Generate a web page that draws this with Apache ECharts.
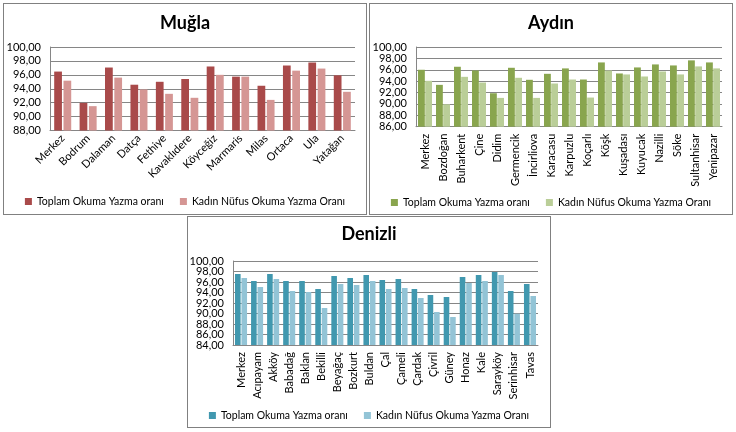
<!DOCTYPE html>
<html><head><meta charset="utf-8">
<script src="https://cdn.jsdelivr.net/npm/echarts@6/dist/echarts.min.js"></script>
<style>
html,body{margin:0;padding:0;background:#fff;width:736px;height:432px;overflow:hidden}
.box{position:absolute;box-sizing:border-box;border:1px solid #808080;background:#fff}
</style></head><body>
<div id="mugla" class="box" style="left:3px;top:3px;width:364px;height:212px"></div>
<div id="aydin" class="box" style="left:369px;top:3px;width:364px;height:212px"></div>
<div id="denizli" class="box" style="left:187px;top:216px;width:364px;height:212px"></div>
<script>
const seriesNames = ['Toplam Okuma Yazma oranı', 'Kadın Nüfus Okuma Yazma Oranı'];

const muglaCategories = ['Merkez','Bodrum','Dalaman','Datça','Fethiye','Kavaklıdere','Köyceğiz','Marmaris','Milas','Ortaca','Ula','Yatağan'];
const muglaToplam = [96.47, 91.97, 97.05, 94.58, 95.00, 95.40, 97.20, 95.74, 94.43, 97.34, 97.77, 95.93];
const muglaKadin  = [95.16, 91.50, 95.60, 93.90, 93.27, 92.70, 96.00, 95.74, 92.40, 96.60, 96.90, 93.56];
const muglaTicks  = ['88,00','90,00','92,00','94,00','96,00','98,00','100,00'];

const aydinCategories = ['Merkez','Bozdoğan','Buharkent','Çine','Didim','Germencik','İncirliova','Karacasu','Karpuzlu','Koçarlı','Köşk','Kuşadası','Kuyucak','Nazilli','Söke','Sultanhisar','Yenipazar'];
const aydinToplam = [96.00, 93.35, 96.53, 95.88, 91.88, 96.35, 94.24, 95.29, 96.24, 94.29, 97.29, 95.35, 96.41, 96.94, 96.76, 97.65, 97.29];
const aydinKadin  = [94.06, 89.94, 94.76, 93.76, 91.06, 94.59, 91.06, 93.59, 94.29, 91.12, 95.88, 95.18, 94.82, 95.70, 95.18, 96.59, 96.24];
const aydinTicks  = ['86,00','88,00','90,00','92,00','94,00','96,00','98,00','100,00'];

const denizliCategories = ['Merkez','Acıpayam','Akköy','Babadağ','Baklan','Bekilli','Beyağaç','Bozkurt','Buldan','Çal','Çameli','Çardak','Çivril','Güney','Honaz','Kale','Sarayköy','Serinhisar','Tavas'];
const denizliToplam = [97.52, 96.19, 97.52, 96.19, 96.19, 94.67, 97.14, 96.76, 97.33, 96.38, 96.57, 94.67, 93.52, 93.14, 96.95, 97.33, 97.90, 94.29, 95.62];
const denizliKadin  = [96.76, 95.05, 96.57, 94.29, 94.10, 91.05, 95.62, 95.43, 96.19, 94.67, 94.86, 92.95, 90.29, 89.33, 95.81, 96.19, 97.33, 89.97, 93.33];
const denizliTicks  = ['84,00','86,00','88,00','90,00','92,00','94,00','96,00','98,00','100,00'];

const FONT = 'Lato, "Open Sans", sans-serif';

function makeChart(id, cfg) {
  const chart = echarts.init(document.getElementById(id), null, {renderer: 'canvas'});
  chart.setOption({
    animation: false,
    backgroundColor: '#fff',
    textStyle: {fontFamily: FONT},
    title: {
      text: cfg.title, left: 'center', top: cfg.titleTop, padding: 0,
      textStyle: {fontFamily: FONT, fontSize: 18, fontWeight: 'bold', color: '#000'}
    },
    legend: {
      data: seriesNames, left: 'center', top: cfg.legendTop, icon: 'rect',
      itemWidth: 7, itemHeight: 7, itemGap: 16,
      textStyle: {fontFamily: FONT, fontSize: 10.5, color: '#000'}
    },
    grid: Object.assign({outerBoundsMode: 'none', containLabel: false}, cfg.grid),
    xAxis: {
      type: 'category', data: cfg.categories,
      axisLine: {lineStyle: {color: '#868686'}},
      axisTick: {show: false},
      axisLabel: {interval: 0, rotate: cfg.rotate, margin: cfg.xMargin, fontFamily: FONT, fontSize: 11, color: '#000'}
    },
    yAxis: [
      {
        type: 'value', min: cfg.min, max: 100, interval: 2,
        axisLine: {show: true, lineStyle: {color: '#868686'}},
        axisTick: {show: false},
        splitLine: {lineStyle: {color: '#868686', width: 1}},
        axisLabel: {show: false}
      },
      {
        type: 'category', data: cfg.ticks, boundaryGap: false, position: 'left',
        axisLine: {show: false}, axisTick: {show: false}, splitLine: {show: false},
        axisLabel: {interval: 0, margin: 9, fontFamily: FONT, fontSize: cfg.yFont, color: '#000'}
      }
    ],
    series: [
      {name: seriesNames[0], type: 'bar', yAxisIndex: 0, data: cfg.toplam, itemStyle: {color: cfg.colors[0]},
       barCategoryGap: cfg.catGap, barGap: cfg.barGap},
      {name: seriesNames[1], type: 'bar', yAxisIndex: 0, data: cfg.kadin, itemStyle: {color: cfg.colors[1]},
       barCategoryGap: cfg.catGap, barGap: cfg.barGap}
    ]
  });
}

makeChart('mugla', {
  title: 'Muğla', titleTop: 10, legendTop: 187,
  grid: {left: 46, top: 43, width: 305, height: 83.5},
  categories: muglaCategories, toplam: muglaToplam, kadin: muglaKadin, ticks: muglaTicks,
  min: 88, rotate: 45, xMargin: 6, yFont: 11,
  colors: ['#A94A4A', '#D59694'], catGap: '33%', barGap: '20%'
});
makeChart('aydin', {
  title: 'Aydın', titleTop: 10, legendTop: 188,
  grid: {left: 46, top: 43, width: 306, height: 79.7},
  categories: aydinCategories, toplam: aydinToplam, kadin: aydinKadin, ticks: aydinTicks,
  min: 86, rotate: 90, xMargin: 7, yFont: 11,
  colors: ['#89A54E', '#BACE98'], catGap: '22%', barGap: '5%'
});
makeChart('denizli', {
  title: 'Denizli', titleTop: 8, legendTop: 188,
  grid: {left: 45, top: 44, width: 305, height: 84},
  categories: denizliCategories, toplam: denizliToplam, kadin: denizliKadin, ticks: denizliTicks,
  min: 84, rotate: 90, xMargin: 7, yFont: 11,
  colors: ['#4198AF', '#93C4D6'], catGap: '25%', barGap: '15%'
});
</script>
</body></html>
